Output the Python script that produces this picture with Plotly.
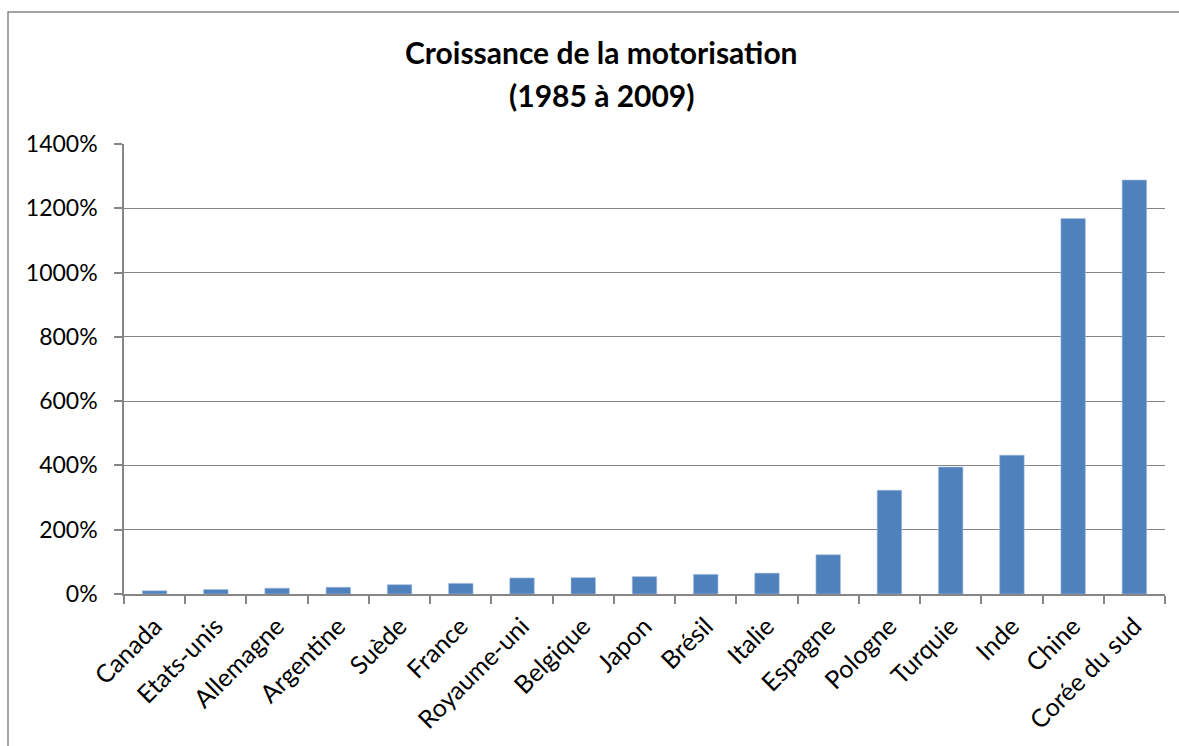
import plotly.graph_objects as go

categories = ["Canada", "Etats-unis", "Allemagne", "Argentine", "Suède", "France",
              "Royaume-uni", "Belgique", "Japon", "Brésil", "Italie", "Espagne",
              "Pologne", "Turquie", "Inde", "Chine", "Corée du sud"]
growth_pct = [10, 14, 18, 21, 29, 33, 50, 51, 54, 61, 65, 122,
              323, 395, 432, 1168, 1288]
y_ticks = [0, 200, 400, 600, 800, 1000, 1200, 1400]
y_tick_labels = [f"{v}%" for v in y_ticks]

title_line1 = "Croissance de la motorisation"
title_line2 = "(1985 à 2009)"

FONT = "Lato, Carlito, Calibri, sans-serif"
GRAY = "#868686"

fig = go.Figure(go.Bar(
    x=categories, y=growth_pct,
    marker=dict(color="#4F81BD", line=dict(color="#A7BFDE", width=0.6)),
    hoverinfo="x+y",
))

W, H = 1179, 746
L, R, T, B = 124, 14, 144, 152
pw, ph = W - L - R, H - T - B

def px_x(x):
    return (x - L) / pw

def px_y(y):
    return (H - B - y) / ph

fig.update_layout(
    width=W, height=H,
    margin=dict(l=L, r=R, t=T, b=B),
    paper_bgcolor="white", plot_bgcolor="white",
    font=dict(family=FONT, size=23, color="black"),
    bargap=0.6,
    showlegend=False,
    xaxis=dict(
        type="category", tickangle=-45, tickson="boundaries",
        ticks="outside", ticklen=8, tickcolor=GRAY, tickwidth=1.5,
        showline=True, linecolor=GRAY, linewidth=1.5,
        showgrid=False, ticklabelstandoff=6,
        tickfont=dict(family=FONT, size=25, color="black"),
    ),
    yaxis=dict(
        range=[0, 1400], tickvals=y_ticks, ticktext=y_tick_labels,
        ticks="outside", ticklen=8, tickcolor=GRAY, tickwidth=1.5,
        showline=True, linecolor=GRAY, linewidth=1.5,
        showgrid=True, gridcolor=GRAY, gridwidth=1,
        zeroline=False, ticklabelstandoff=12,
        tickfont=dict(family=FONT, size=23, color="black"),
    ),
    shapes=[dict(
        type="rect", xref="paper", yref="paper",
        x0=px_x(8), x1=px_x(1200), y0=px_y(780), y1=px_y(12),
        line=dict(color=GRAY, width=1.5), fillcolor="rgba(0,0,0,0)", layer="below",
    )],
    annotations=[
        dict(text=f"<b>{title_line1}</b>", xref="paper", yref="paper",
             x=px_x(601), y=px_y(52), xanchor="center", yanchor="middle",
             showarrow=False, font=dict(family=FONT, size=30, color="black")),
        dict(text=f"<b>{title_line2}</b>", xref="paper", yref="paper",
             x=px_x(601), y=px_y(95), xanchor="center", yanchor="middle",
             showarrow=False, font=dict(family=FONT, size=30, color="black")),
    ],
)

fig.write_html("out.html")
